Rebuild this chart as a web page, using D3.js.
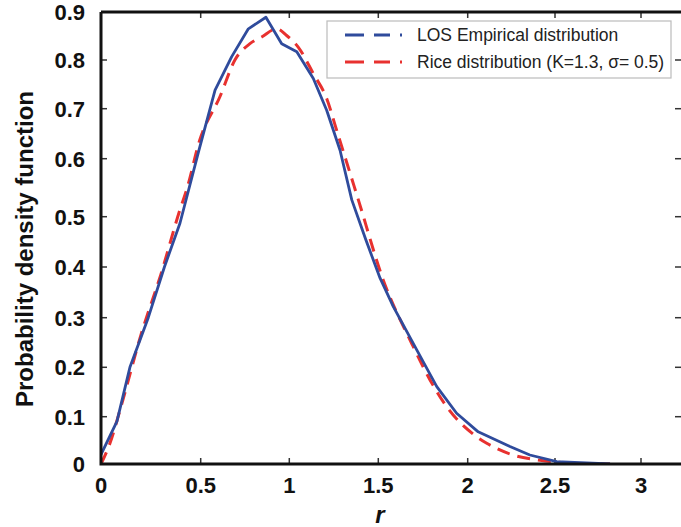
<!DOCTYPE html>
<html>
<head>
<meta charset="utf-8">
<script src="https://cdn.jsdelivr.net/npm/d3@7/dist/d3.min.js"></script>
<style>
  html, body { margin: 0; padding: 0; background: #fff; }
  svg { display: block; }
  text { font-family: "Liberation Sans", Arial, Helvetica, sans-serif; }
</style>
</head>
<body>
<svg id="chart" width="681" height="527"></svg>
<script>
// Empirical LOS distribution (r, pdf)
const empiricalR   = [0.00, 0.08, 0.145, 0.237, 0.318, 0.396, 0.49, 0.581, 0.675, 0.769, 0.868, 0.957, 1.042, 1.135, 1.21, 1.285, 1.351, 1.43, 1.51, 1.584, 1.715, 1.827, 1.938, 2.06, 2.242, 2.356, 2.51, 2.82];
const empiricalPdf = [0.02, 0.09, 0.20, 0.30, 0.40, 0.487, 0.615, 0.738, 0.807, 0.865, 0.889, 0.834, 0.817, 0.762, 0.697, 0.617, 0.529, 0.454, 0.378, 0.322, 0.235, 0.161, 0.107, 0.068, 0.037, 0.019, 0.005, 0.0];

// Fitted Rice distribution (r, pdf)
const riceR   = [0.00, 0.045, 0.10, 0.20, 0.30, 0.396, 0.43, 0.495, 0.609, 0.693, 0.778, 0.844, 0.929, 0.985, 1.05, 1.135, 1.21, 1.266, 1.388, 1.528, 1.687, 1.79, 1.883, 2.05, 2.109, 2.26, 2.414, 2.6, 2.82];
const ricePdf = [0.00, 0.044, 0.12, 0.265, 0.385, 0.512, 0.547, 0.637, 0.725, 0.80, 0.834, 0.848, 0.865, 0.851, 0.827, 0.772, 0.721, 0.657, 0.529, 0.374, 0.248, 0.174, 0.12, 0.058, 0.044, 0.019, 0.008, 0.002, 0.0];

const xTicks = [0, 0.5, 1, 1.5, 2, 2.5, 3];
const yTicks = [0, 0.1, 0.2, 0.3, 0.4, 0.5, 0.6, 0.7, 0.8, 0.9];

const seriesNames = ["LOS Empirical distribution", "Rice distribution (K=1.3, \u03c3= 0.5)"];

const svg = d3.select("#chart");

// Axis frame
const frame = { left: 101, right: 684, top: 12, bottom: 464 };

// Piecewise scales following the printed tick spacing of the figure
const x = d3.scaleLinear()
  .domain([0, 0.5, 1, 1.5, 2, 2.5, 3, 3.25])
  .range([frame.left, 200.7, 289.3, 378.3, 467.7, 555, 641, frame.right]);
const y = d3.scaleLinear()
  .domain(yTicks)
  .range([frame.bottom, 416.7, 367.3, 317.7, 267, 216.7, 158.7, 108.7, 60, frame.top]);

const blue = "#2f4b9c";
const red = "#e8312f";

svg.append("defs").append("clipPath").attr("id", "plotClip")
  .append("rect").attr("x", frame.left).attr("y", frame.top)
  .attr("width", frame.right - frame.left).attr("height", frame.bottom - frame.top);

// Ticks (inward) on all four sides
const tickLen = 6;
const tickG = svg.append("g").attr("stroke", "#333").attr("stroke-width", 1.5);
xTicks.forEach(v => {
  tickG.append("line").attr("x1", x(v)).attr("x2", x(v)).attr("y1", frame.bottom).attr("y2", frame.bottom - tickLen);
  tickG.append("line").attr("x1", x(v)).attr("x2", x(v)).attr("y1", frame.top).attr("y2", frame.top + tickLen);
});
yTicks.forEach(v => {
  tickG.append("line").attr("x1", frame.left).attr("x2", frame.left + tickLen).attr("y1", y(v)).attr("y2", y(v));
  tickG.append("line").attr("x1", frame.right - 3).attr("x2", frame.right - 3 - tickLen).attr("y1", y(v)).attr("y2", y(v));
});

// Curves
const plot = svg.append("g").attr("clip-path", "url(#plotClip)");

const riceLine = d3.line()
  .x((d, i) => x(riceR[i]))
  .y(d => y(d))
  .curve(d3.curveMonotoneX);
plot.append("path")
  .datum(ricePdf)
  .attr("d", riceLine)
  .attr("fill", "none")
  .attr("stroke", red)
  .attr("stroke-width", 3)
  .attr("stroke-dasharray", "13,8");

const empLine = d3.line()
  .x((d, i) => x(empiricalR[i]))
  .y(d => y(d));
plot.append("path")
  .datum(empiricalPdf)
  .attr("d", empLine)
  .attr("fill", "none")
  .attr("stroke", blue)
  .attr("stroke-width", 2.8)
  .attr("stroke-linejoin", "round");

// Axis lines (thick)
const axisG = svg.append("g").attr("stroke", "#111").attr("stroke-width", 3).attr("fill", "none");
axisG.append("path").attr("d", `M${frame.left},${frame.top}V${frame.bottom}H${frame.right}`);
axisG.append("path").attr("d", `M${frame.left},${frame.top}H${frame.right}`);

// Tick labels
svg.append("g").selectAll("text").data(xTicks).join("text")
  .attr("x", d => x(d))
  .attr("y", 493)
  .attr("text-anchor", "middle")
  .attr("font-size", 22)
  .attr("font-weight", "bold")
  .attr("fill", "#111")
  .text(d => d3.format("~g")(d));

svg.append("g").selectAll("text").data(yTicks).join("text")
  .attr("x", 85)
  .attr("y", d => y(d))
  .attr("dy", "0.36em")
  .attr("text-anchor", "end")
  .attr("font-size", 22)
  .attr("font-weight", "bold")
  .attr("fill", "#111")
  .text(d => d3.format("~g")(d));

// Axis titles
svg.append("text")
  .attr("transform", "translate(33,249) rotate(-90)")
  .attr("text-anchor", "middle")
  .attr("font-size", 24)
  .attr("font-weight", "bold")
  .attr("fill", "#111")
  .text("Probability density function");

svg.append("text")
  .attr("x", 380)
  .attr("y", 523)
  .attr("text-anchor", "middle")
  .attr("font-size", 24)
  .attr("font-weight", "bold")
  .attr("font-style", "italic")
  .attr("fill", "#111")
  .text("r");

// Legend
const legend = svg.append("g");
legend.append("rect")
  .attr("x", 327).attr("y", 21).attr("width", 344).attr("height", 57)
  .attr("fill", "#fff").attr("stroke", "#bbb").attr("stroke-width", 1.2);
const legendColors = [blue, red];
seriesNames.forEach((name, i) => {
  const cy = 35 + i * 27;
  legend.append("line")
    .attr("x1", 345).attr("x2", 403).attr("y1", cy).attr("y2", cy)
    .attr("stroke", legendColors[i]).attr("stroke-width", 3)
    .attr("stroke-dasharray", "19,10,16,10,2");
  legend.append("text")
    .attr("x", 417).attr("y", cy).attr("dy", "0.36em")
    .attr("font-size", 17.5)
    .attr("fill", "#222")
    .text(name);
});
</script>
</body>
</html>
